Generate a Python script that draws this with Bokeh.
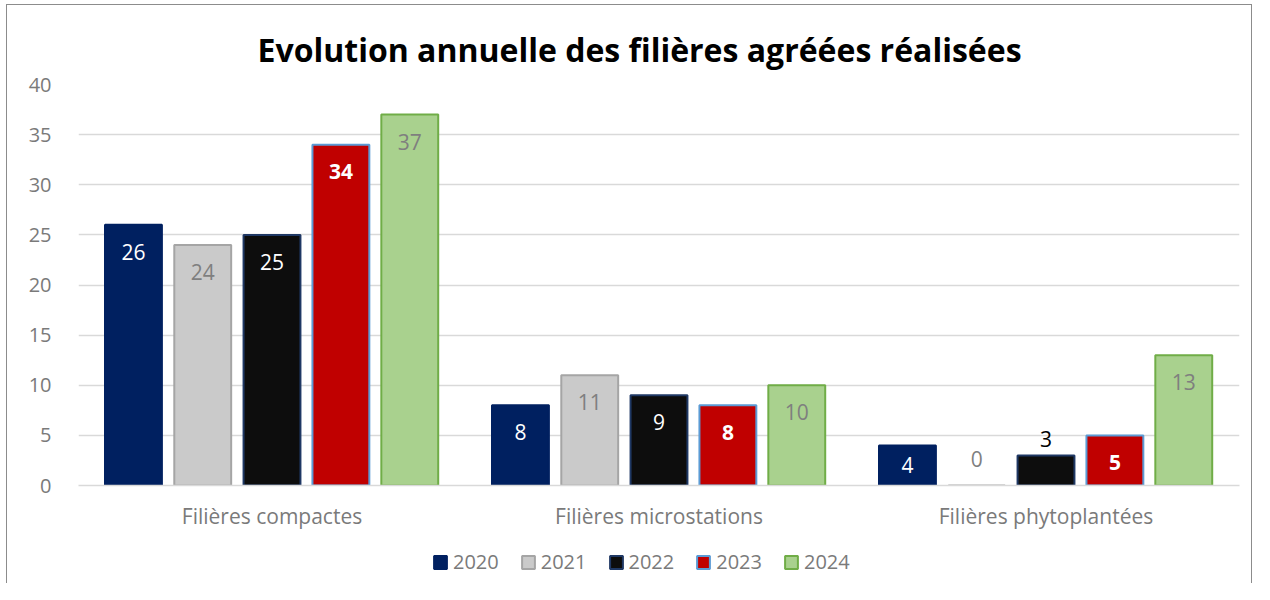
from bokeh.plotting import figure
from bokeh.layouts import column
from bokeh.models import ColumnDataSource, FactorRange, Range1d, Legend, LegendItem, SingleIntervalTicker
from bokeh.transform import dodge
from bokeh.core.properties import value
from bokeh.embed import file_html
from bokeh.resources import INLINE

categories = ["Filières compactes", "Filières microstations", "Filières phytoplantées"]
years = ["2020", "2021", "2022", "2023", "2024"]
v2020 = [26, 8, 4]
v2021 = [24, 11, 0]
v2022 = [25, 9, 3]
v2023 = [34, 8, 5]
v2024 = [37, 10, 13]
series = [v2020, v2021, v2022, v2023, v2024]

FONT = "Open Sans"
GREY = "#7a7a7a"
fills = ["#002060", "#cacaca", "#0d0d0d", "#c00000", "#a9d18e"]
lines = ["#002060", "#a5a5a5", "#1f3864", "#5b9bd5", "#70ad47"]
label_colors = ["#ffffff", "#7f7f7f", "#ffffff", "#ffffff", "#7f7f7f"]
label_styles = ["normal", "normal", "normal", "bold", "normal"]
offsets = [-0.358, -0.179, 0.0, 0.178, 0.356]
bar_w = 0.147
W = 1246

p = figure(x_range=FactorRange(*categories, range_padding=0), y_range=Range1d(0, 40),
           width=W, height=535, output_backend="svg", toolbar_location=None,
           min_border_left=71, min_border_right=14, min_border_top=79, min_border_bottom=55)
p.styles = {"border-left": "1px solid #8c8c8c", "border-top": "1px solid #8c8c8c",
            "border-right": "1px solid #8c8c8c"}

p.title.text = "Evolution annuelle des filières agréées réalisées"
p.title.align = "left"
p.title.text_font = FONT
p.title.text_font_size = "32px"
p.title.text_font_style = "bold"
p.title.text_color = "#000000"
p.title.offset = 179
p.title.standoff = 28

p.outline_line_color = None
p.xgrid.grid_line_color = None
p.ygrid.grid_line_color = "#d9d9d9"
p.ygrid.grid_line_width = 1.5
p.yaxis.ticker = SingleIntervalTicker(interval=5)
p.yaxis.axis_line_color = None
p.yaxis.major_tick_line_color = None
p.yaxis.minor_tick_line_color = None
p.yaxis.major_label_standoff = 21
p.yaxis.major_label_text_font = FONT
p.yaxis.major_label_text_font_size = "20px"
p.yaxis.major_label_text_color = GREY
p.xaxis.axis_line_color = "#d9d9d9"
p.xaxis.axis_line_width = 1.5
p.xaxis.major_tick_line_color = None
p.xaxis.minor_tick_line_color = None
p.xaxis.major_label_standoff = 10
p.xaxis.major_label_text_font = FONT
p.xaxis.major_label_text_font_size = "21px"
p.xaxis.major_label_text_color = GREY

lg = figure(width=W, height=44, output_backend="svg", toolbar_location=None,
            x_axis_type=None, y_axis_type=None,
            x_range=FactorRange(*categories, range_padding=0), y_range=Range1d(0, 40),
            min_border=0)
lg.styles = {"border-left": "1px solid #8c8c8c", "border-right": "1px solid #8c8c8c"}
lg.outline_line_color = None
lg.xgrid.grid_line_color = None
lg.ygrid.grid_line_color = None

items = []
for i, (yr, vals) in enumerate(zip(years, series)):
    ly, dy, col = [], [], []
    for v in vals:
        if v >= 5:
            ly.append(v); dy.append(27); col.append(label_colors[i])
        elif v >= 4:
            ly.append(v / 2); dy.append(0); col.append(label_colors[i])
        elif v > 0:
            ly.append(v); dy.append(-16); col.append("#000000")
        else:
            ly.append(0); dy.append(-27); col.append("#7f7f7f")
    src = ColumnDataSource(dict(cat=categories, val=vals, ly=ly, dy=dy, col=col,
                                txt=[str(v) for v in vals]))
    p.vbar(x=dodge("cat", offsets[i], range=p.x_range), top="val", width=bar_w, source=src,
           fill_color=fills[i], line_color=lines[i], line_width=2)
    p.text(x=dodge("cat", offsets[i], range=p.x_range), y="ly", text="txt", source=src,
           y_offset="dy", text_color="col", text_align="center", text_baseline="middle",
           text_font=value(FONT), text_font_size="21px", text_font_style=label_styles[i])
    # hidden renderer used only for the legend swatch
    r = lg.vbar(x=dodge("cat", offsets[i], range=lg.x_range), top="val", width=bar_w, source=src,
                fill_color=fills[i], line_color=lines[i], line_width=2, visible=False)
    items.append(LegendItem(label=yr, renderers=[r]))

legend = Legend(items=items, orientation="horizontal", location=(354, 8),
                label_text_font=FONT, label_text_font_size="20px", label_text_color=GREY,
                glyph_width=16, glyph_height=16, spacing=21, label_standoff=5,
                inactive_fill_alpha=0,
                border_line_color=None, background_fill_alpha=0, padding=0, margin=0)
lg.add_layout(legend, "center")

layout = column(p, lg, spacing=0, styles={"padding-left": "6px", "padding-top": "4px"})

open("out.html", "w").write(file_html(layout, INLINE))
